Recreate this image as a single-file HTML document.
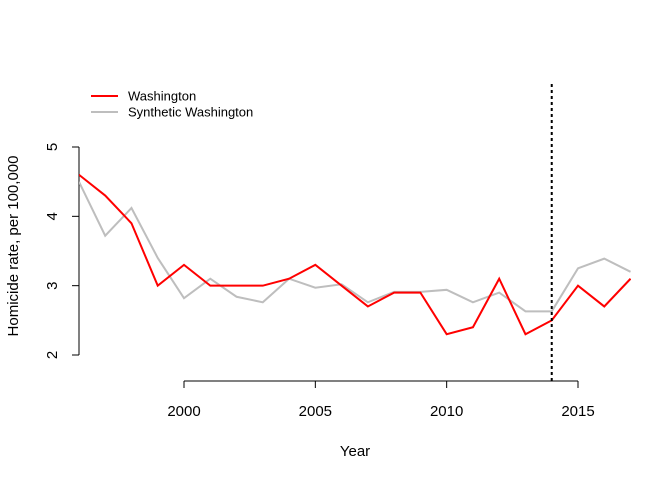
<!DOCTYPE html>
<html><head><meta charset="utf-8"><style>
body{margin:0;background:#fff}
text{font-family:"Liberation Sans",Arial,sans-serif;font-size:15px;fill:#000}
</style></head><body>
<svg id="chart" width="672" height="480"></svg>
<script>
const years=[1996,1997,1998,1999,2000,2001,2002,2003,2004,2005,2006,2007,2008,2009,2010,2011,2012,2013,2014,2015,2016,2017];
const washington=[4.6,4.3,3.9,3.0,3.3,3.0,3.0,3.0,3.1,3.3,3.0,2.7,2.9,2.9,2.3,2.4,3.1,2.3,2.5,3.0,2.7,3.1];
const synthetic=[4.5,3.72,4.12,3.4,2.82,3.1,2.84,2.76,3.1,2.97,3.02,2.76,2.91,2.91,2.94,2.76,2.9,2.63,2.63,3.25,3.39,3.2];
const xTicks=[2000,2005,2010,2015];
const yTicks=[2,3,4,5];
const treatmentYear=2014;
const legendLabels=["Washington","Synthetic Washington"];

const NS="http://www.w3.org/2000/svg";
const svg=document.getElementById('chart');
const xs=v=>184+(v-2000)*(578-184)/15;
const ys=v=>355-(v-2)*(355-147)/3;
function el(t,a,p){const e=document.createElementNS(NS,t);for(const k in a)e.setAttribute(k,a[k]);(p||svg).appendChild(e);return e;}

let g=el('g',{});


el('line',{x1:79,x2:79,y1:ys(yTicks[0]),y2:ys(yTicks[yTicks.length-1]),stroke:'#000'},g);
yTicks.forEach(t=>{
  el('line',{x1:72,x2:79,y1:ys(t),y2:ys(t),stroke:'#000'},g);
  const tx=el('text',{x:57,y:ys(t),'text-anchor':'middle',transform:`rotate(-90 57 ${ys(t)})`},g);
  tx.textContent=t;
  
  
});
g=el('g',{});


el('line',{x1:xs(xTicks[0]),x2:xs(xTicks[xTicks.length-1]),y1:381,y2:381,stroke:'#000'},g);
xTicks.forEach(t=>{
  el('line',{x1:xs(t),x2:xs(t),y1:381,y2:388,stroke:'#000'},g);
  const tx=el('text',{x:xs(t),y:416,'text-anchor':'middle'},g);
  tx.textContent=t;
  
  
});
let t=el('text',{x:355,y:456,'text-anchor':'middle'});
t.textContent='Year';


t=el('text',{x:18,y:246,'text-anchor':'middle',transform:'rotate(-90 18 246)'});
t.textContent='Homicide rate, per 100,000';



const clip=el('clipPath',{id:'c'});el('rect',{x:79,y:84,width:552,height:297},clip);
function line(vals,col,name){
  const p=el('polyline',{points:vals.map((v,i)=>xs(years[i])+','+ys(v)).join(' '),fill:'none',stroke:col,'stroke-width':2,'clip-path':'url(#c)'});
  
  
}
line(synthetic,'#bebebe','synthetic-washington-line');
line(washington,'#ff0000','washington-line');
const vl=el('line',{x1:xs(treatmentYear),x2:xs(treatmentYear),y1:84,y2:381,stroke:'#000','stroke-width':2,'stroke-dasharray':'3,3'});



[['#ff0000',96],['#bebebe',112]].forEach((c,i)=>{
  const lg=el('g',{});
  
  
  el('line',{x1:91,x2:118,y1:c[1],y2:c[1],stroke:c[0],'stroke-width':2},lg);
  const tx=el('text',{x:128,y:c[1]+4.5,style:'font-size:13px'},lg);
  tx.textContent=legendLabels[i];
});
</script>
</body></html>
